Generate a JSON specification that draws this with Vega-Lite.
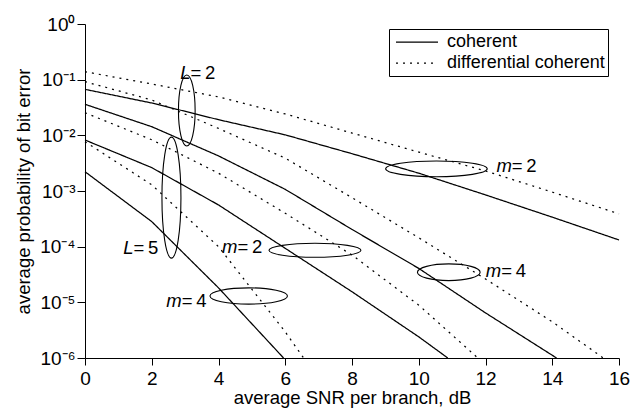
{
  "$schema": "https://vega.github.io/schema/vega-lite/v6.json",
  "width": 534,
  "height": 334,
  "autosize": {"type": "none"},
  "padding": {"left": 85, "top": 24, "right": 22, "bottom": 50},
  "background": "white",
  "config": {
    "font": "Liberation Sans",
    "view": {"stroke": null},
    "axis": {
      "domainColor": "black",
      "domainWidth": 1,
      "tickColor": "black",
      "tickWidth": 1,
      "labelColor": "black",
      "titleColor": "black",
      "labelFontSize": 19,
      "titleFontSize": 18.5,
      "titleFontWeight": "normal",
      "grid": false
    },
    "legend": {
      "labelFontSize": 18,
      "labelColor": "black",
      "labelLimit": 400
    }
  },
  "datasets": {
    "curves": [
      {"curve": "A", "type": "differential coherent", "x": 0, "p": 0.139},
      {"curve": "A", "type": "differential coherent", "x": 2, "p": 0.0836},
      {"curve": "A", "type": "differential coherent", "x": 4, "p": 0.049},
      {"curve": "A", "type": "differential coherent", "x": 6, "p": 0.0242},
      {"curve": "A", "type": "differential coherent", "x": 8, "p": 0.011},
      {"curve": "A", "type": "differential coherent", "x": 10, "p": 0.005},
      {"curve": "A", "type": "differential coherent", "x": 12, "p": 0.00229},
      {"curve": "A", "type": "differential coherent", "x": 14, "p": 0.000955},
      {"curve": "A", "type": "differential coherent", "x": 16, "p": 0.000389},
      {"curve": "B", "type": "coherent", "x": 0, "p": 0.067},
      {"curve": "B", "type": "coherent", "x": 2, "p": 0.0381},
      {"curve": "B", "type": "coherent", "x": 4, "p": 0.0191},
      {"curve": "B", "type": "coherent", "x": 6, "p": 0.0102},
      {"curve": "B", "type": "coherent", "x": 8, "p": 0.00468},
      {"curve": "B", "type": "coherent", "x": 10, "p": 0.00209},
      {"curve": "B", "type": "coherent", "x": 12, "p": 0.000851},
      {"curve": "B", "type": "coherent", "x": 14, "p": 0.000339},
      {"curve": "B", "type": "coherent", "x": 16, "p": 0.000132},
      {"curve": "C", "type": "differential coherent", "x": 0, "p": 0.092},
      {"curve": "C", "type": "differential coherent", "x": 2, "p": 0.0432},
      {"curve": "C", "type": "differential coherent", "x": 4, "p": 0.0133},
      {"curve": "C", "type": "differential coherent", "x": 6, "p": 0.00389},
      {"curve": "C", "type": "differential coherent", "x": 8, "p": 0.000759},
      {"curve": "C", "type": "differential coherent", "x": 10, "p": 0.0001445},
      {"curve": "C", "type": "differential coherent", "x": 12, "p": 0.0000263},
      {"curve": "C", "type": "differential coherent", "x": 14, "p": 0.00000447},
      {"curve": "C", "type": "differential coherent", "x": 15.53, "p": 0.000001},
      {"curve": "D", "type": "coherent", "x": 0, "p": 0.0361},
      {"curve": "D", "type": "coherent", "x": 2, "p": 0.0143},
      {"curve": "D", "type": "coherent", "x": 4, "p": 0.00427},
      {"curve": "D", "type": "coherent", "x": 6, "p": 0.00107},
      {"curve": "D", "type": "coherent", "x": 8, "p": 0.000204},
      {"curve": "D", "type": "coherent", "x": 10, "p": 0.0000407},
      {"curve": "D", "type": "coherent", "x": 12, "p": 0.00000646},
      {"curve": "D", "type": "coherent", "x": 14, "p": 0.00000112},
      {"curve": "D", "type": "coherent", "x": 14.13, "p": 0.000001},
      {"curve": "E", "type": "differential coherent", "x": 0, "p": 0.0255},
      {"curve": "E", "type": "differential coherent", "x": 2, "p": 0.00832},
      {"curve": "E", "type": "differential coherent", "x": 4, "p": 0.00209},
      {"curve": "E", "type": "differential coherent", "x": 6, "p": 0.000398},
      {"curve": "E", "type": "differential coherent", "x": 8, "p": 0.0000708},
      {"curve": "E", "type": "differential coherent", "x": 10, "p": 0.0000089},
      {"curve": "E", "type": "differential coherent", "x": 11.77, "p": 0.000001},
      {"curve": "F", "type": "coherent", "x": 0, "p": 0.00824},
      {"curve": "F", "type": "coherent", "x": 2, "p": 0.00263},
      {"curve": "F", "type": "coherent", "x": 4, "p": 0.000562},
      {"curve": "F", "type": "coherent", "x": 6, "p": 0.0000933},
      {"curve": "F", "type": "coherent", "x": 8, "p": 0.0000155},
      {"curve": "F", "type": "coherent", "x": 10, "p": 0.0000024},
      {"curve": "F", "type": "coherent", "x": 10.87, "p": 0.000001},
      {"curve": "G", "type": "differential coherent", "x": 0, "p": 0.00769},
      {"curve": "G", "type": "differential coherent", "x": 2, "p": 0.00129},
      {"curve": "G", "type": "differential coherent", "x": 4, "p": 0.0001},
      {"curve": "G", "type": "differential coherent", "x": 6, "p": 0.00000295},
      {"curve": "G", "type": "differential coherent", "x": 6.55, "p": 0.000001},
      {"curve": "H", "type": "coherent", "x": 0, "p": 0.00222},
      {"curve": "H", "type": "coherent", "x": 2, "p": 0.000282},
      {"curve": "H", "type": "coherent", "x": 4, "p": 0.0000182},
      {"curve": "H", "type": "coherent", "x": 5.95, "p": 0.000001}
    ],
    "labels": [
      {"var": "L", "rest": "\u2009=\u20092", "x": 3.16, "p": 0.1345},
      {"var": "L", "rest": "\u2009=\u20095", "x": 1.453, "p": 0.0000935},
      {"var": "m", "rest": "\u2009=\u20092", "x": 12.79, "p": 0.00284},
      {"var": "m", "rest": "\u2009=\u20092", "x": 4.569, "p": 0.0000995},
      {"var": "m", "rest": "\u2009=\u20094", "x": 12.47, "p": 0.0000369},
      {"var": "m", "rest": "\u2009=\u20094", "x": 2.9, "p": 0.0000107}
    ]
  },
  "encoding": {
    "x": {
      "field": "x",
      "type": "quantitative",
      "scale": {"domain": [0, 16], "nice": false, "zero": false},
      "axis": {
        "title": "average SNR per branch, dB",
        "values": [0, 2, 4, 6, 8, 10, 12, 14, 16],
        "tickSize": 7,
        "labelPadding": 4,
        "labelFlush": false,
        "titleY": 45,
        "titleBaseline": "alphabetic"
      }
    },
    "y": {
      "field": "p",
      "type": "quantitative",
      "scale": {"type": "log", "domain": [0.000001, 1], "nice": false},
      "axis": {
        "title": "average probability of bit error",
        "values": [1, 0.1, 0.01, 0.001, 0.0001, 0.00001, 0.000001],
        "labelExpr": "'10' + ['\u2070','\u207b\u00b9','\u207b\u00b2','\u207b\u00b3','\u207b\u2074','\u207b\u2075','\u207b\u2076'][round(-log(datum.value)/LN10)]",
        "tickSize": 8,
        "labelPadding": 2,
        "labelFlush": false,
        "titleX": -62,
        "titleY": 167,
        "titleBaseline": "middle",
        "titleAngle": -90
      }
    }
  },
  "layer": [
    {
      "data": {"name": "curves"},
      "mark": {"type": "line", "strokeWidth": 1.25, "color": "black"},
      "encoding": {
        "detail": {"field": "curve", "type": "nominal"},
        "order": {"field": "x", "type": "quantitative"},
        "strokeDash": {
          "field": "type",
          "type": "nominal",
          "scale": {"domain": ["coherent", "differential coherent"], "range": [[1, 0], [2, 5]]},
          "legend": {
            "title": null,
            "orient": "none",
            "legendX": 304,
            "legendY": 5,
            "symbolType": "stroke",
            "symbolSize": 1764,
            "symbolStrokeWidth": 1.25,
            "symbolStrokeColor": "black",
            "clipHeight": 20,
            "rowPadding": 1,
            "padding": 3,
            "symbolOffset": 3,
            "labelOffset": 8,
            "labelLimit": 400,
            "strokeColor": "black",
            "fillColor": "white",
            "labelFontSize": 18
          }
        }
      }
    },
    {
      "data": {"values": [{"x": 3.05, "p": 0.0279}]},
      "mark": {"type": "point", "filled": false, "stroke": "black", "strokeWidth": 1.1, "opacity": 1, "size": 5041,
        "shape": "M0,-1C0.1298,-1 0.235,-0.5523 0.235,0C0.235,0.5523 0.1298,1 0,1C-0.1298,1 -0.235,0.5523 -0.235,0C-0.235,-0.5523 -0.1298,-1 0,-1Z"}
    },
    {
      "data": {"values": [{"x": 2.59, "p": 0.00076}]},
      "mark": {"type": "point", "filled": false, "stroke": "black", "strokeWidth": 1.1, "opacity": 1, "size": 14641,
        "shape": "M0,-1C0.0867,-1 0.157,-0.5523 0.157,0C0.157,0.5523 0.0867,1 0,1C-0.0867,1 -0.157,0.5523 -0.157,0C-0.157,-0.5523 -0.0867,-1 0,-1Z"}
    },
    {
      "data": {"values": [{"x": 10.53, "p": 0.0025}]},
      "mark": {"type": "point", "filled": false, "stroke": "black", "strokeWidth": 1.1, "opacity": 1, "size": 10323,
        "shape": "M-1,0C-1,-0.0856 -0.5523,-0.155 0,-0.155C0.5523,-0.155 1,-0.0856 1,0C1,0.0856 0.5523,0.155 0,0.155C-0.5523,0.155 -1,0.0856 -1,0Z"}
    },
    {
      "data": {"values": [{"x": 6.89, "p": 0.000086}]},
      "mark": {"type": "point", "filled": false, "stroke": "black", "strokeWidth": 1.1, "opacity": 1, "size": 8464,
        "shape": "M-1,0C-1,-0.0839 -0.5523,-0.152 0,-0.152C0.5523,-0.152 1,-0.0839 1,0C1,0.0839 0.5523,0.152 0,0.152C-0.5523,0.152 -1,0.0839 -1,0Z"}
    },
    {
      "data": {"values": [{"x": 10.9, "p": 0.0000347}]},
      "mark": {"type": "point", "filled": false, "stroke": "black", "strokeWidth": 1.1, "opacity": 1, "size": 3931,
        "shape": "M-1,0C-1,-0.1469 -0.5523,-0.266 0,-0.266C0.5523,-0.266 1,-0.1469 1,0C1,0.1469 0.5523,0.266 0,0.266C-0.5523,0.266 -1,0.1469 -1,0Z"}
    },
    {
      "data": {"values": [{"x": 4.905, "p": 0.000013}]},
      "mark": {"type": "point", "filled": false, "stroke": "black", "strokeWidth": 1.1, "opacity": 1, "size": 6006,
        "shape": "M-1,0C-1,-0.116 -0.5523,-0.21 0,-0.21C0.5523,-0.21 1,-0.116 1,0C1,0.116 0.5523,0.21 0,0.21C-0.5523,0.21 -1,0.116 -1,0Z"}
    },
    {
      "data": {"name": "labels"},
      "mark": {"type": "text", "align": "right", "baseline": "middle", "fontStyle": "italic", "fontSize": 18.5, "color": "black"},
      "encoding": {"text": {"field": "var", "type": "nominal"}}
    },
    {
      "data": {"name": "labels"},
      "mark": {"type": "text", "align": "left", "baseline": "middle", "fontSize": 18.5, "color": "black"},
      "encoding": {"text": {"field": "rest", "type": "nominal"}}
    }
  ]
}
